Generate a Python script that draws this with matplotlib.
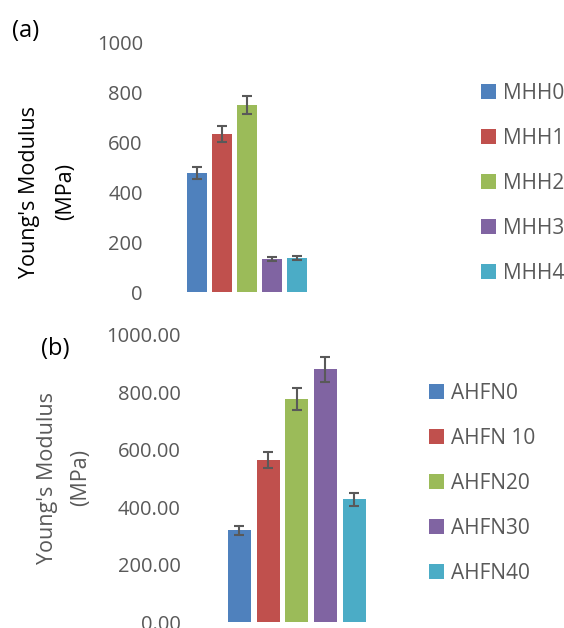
import numpy as np
import matplotlib.pyplot as plt
from matplotlib.patches import Patch

plt.rcParams['font.family'] = ['Open Sans', 'DejaVu Sans']

# panel (a)
labels_a = ['MHH0', 'MHH1', 'MHH2', 'MHH3', 'MHH4']
values_a = [478, 634, 751, 132, 138]
errors_a = [24, 32, 38, 7, 8]

# panel (b)
labels_b = ['AHFN0', 'AHFN 10', 'AHFN20', 'AHFN30', 'AHFN40']
values_b = [320, 564, 777, 881, 427]
errors_b = [16, 28, 39, 44, 23]

colors = ['#4F81BD', '#C0504D', '#9BBB59', '#8064A2', '#4BACC6']
grey = '#595959'

W, H = 564, 628
fig = plt.figure(figsize=(W / 100, H / 100), dpi=100)


def px_axes(x0, x1, ytop, ybot):
    return fig.add_axes([x0 / W, 1 - ybot / H, (x1 - x0) / W, (ybot - ytop) / H])


def draw_panel(ax, labels, values, errors, fmt, pad):
    x = np.arange(len(values))
    ax.bar(x, values, width=0.8, color=colors,
           yerr=errors, capsize=3.3,
           error_kw=dict(ecolor=grey, elinewidth=1.5, capthick=1.5))
    ax.set_xlim(-0.5, len(values) - 0.5)
    ax.set_ylim(0, 1000)
    ax.set_yticks(np.arange(0, 1001, 200))
    ax.set_yticklabels([fmt.format(v) for v in np.arange(0, 1001, 200)])
    ax.set_xticks([])
    ax.tick_params(axis='y', length=0, pad=pad, labelsize=14.5, labelcolor=grey)
    for s in ax.spines.values():
        s.set_visible(False)
    handles = [Patch(facecolor=c, label=l) for c, l in zip(colors, labels)]
    return handles


ax_a = px_axes(184.5, 309.5, 43, 292)
h_a = draw_panel(ax_a, labels_a, values_a, errors_a, '{:d}', 30)
ax_b = px_axes(225, 368.5, 335, 622)
h_b = draw_panel(ax_b, labels_b, values_b, errors_b, '{:.2f}', 32)

leg_kw = dict(loc='upper left', frameon=False, fontsize=15, labelcolor=grey,
              handlelength=0.7, handleheight=0.7, handletextpad=0.35,
              labelspacing=1.15, borderpad=0, borderaxespad=0)
fig.legend(handles=h_a, bbox_to_anchor=(481 / W, 1 - 83 / H), **leg_kw)
fig.legend(handles=h_b, bbox_to_anchor=(429 / W, 1 - 383 / H), **leg_kw)

fig.text(47.5 / W, 1 - 192 / H, "Young's Modulus\n(MPa)", rotation=90,
         ha='center', va='center', multialignment='center', fontsize=15.5,
         color='black', linespacing=2.0)
fig.text(64 / W, 1 - 478 / H, "Young's Modulus\n(MPa)", rotation=90,
         ha='center', va='center', multialignment='center', fontsize=15.5,
         color=grey, linespacing=1.8)

fig.text(12 / W, 1 - 31 / H, '(a)', fontsize=17, va='center', ha='left')
fig.text(41 / W, 1 - 349 / H, '(b)', fontsize=17, va='center', ha='left')

fig.savefig('out.png', dpi=100)
